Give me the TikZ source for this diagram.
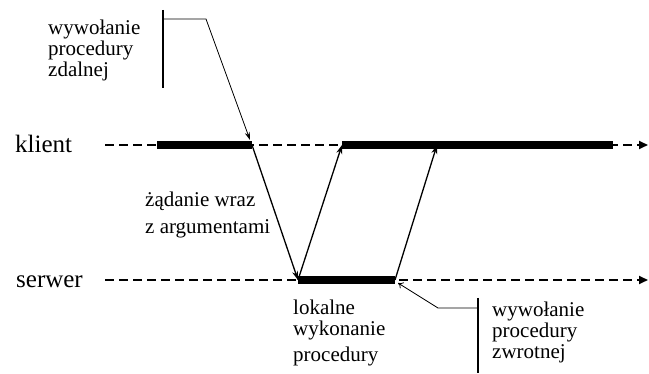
\documentclass[tikz,border=0pt]{standalone}
\usepackage{fontspec}
\setmainfont{Liberation Serif}
\usetikzlibrary{arrows.meta}
\begin{document}
\begin{tikzpicture}[x=1pt,y=-1pt,
  lbl/.style={anchor=base west,inner sep=0pt,font=\fontsize{21}{21}\selectfont},
  big/.style={anchor=base west,inner sep=0pt,font=\fontsize{25}{25}\selectfont},
  timeline/.style={line width=2pt,dash pattern=on 9pt off 5pt,-{Triangle[length=9pt,width=8pt]}},
  bar/.style={line width=8pt},
  msg/.style={line width=1.3pt,-{Stealth[length=9pt,width=6pt]}},
  callbar/.style={line width=2pt},
  callline/.style={line width=0.8pt},
]
\useasboundingbox (0,0) rectangle (649,374);
% timelines
\coordinate (kS) at (105,145);
\coordinate (kE) at (648,145);
\coordinate (sS) at (105,280);
\coordinate (sE) at (648,280);
\draw[timeline] (kS) -- (kE);
\draw[timeline] (sS) -- (sE);
% bars
\coordinate (k1a) at (157,145);
\coordinate (k1b) at (252,145);
\coordinate (k2a) at (342,145);
\coordinate (k2b) at (613,145);
\coordinate (s1a) at (298,280);
\coordinate (s1b) at (395,280);
\coordinate (k2m) at (437,145);
\draw[bar] (k1a) -- (k1b);
\draw[bar] (k2a) -- (k2b);
\draw[bar] (s1a) -- (s1b);
% messages
\draw[msg] (k1b) -- (s1a);
\draw[msg] (s1a) -- (k2a);
\draw[msg] (s1b) -- (k2m);
% labels
\node[big] (klient) at (15,153) {klient};
\node[big] (serwer) at (16,288) {serwer};
\node[lbl] (t1) at (48,35) {wywołanie};
\node[lbl] (t2) at (48,56) {procedury};
\node[lbl] (t3) at (48,77) {zdalnej};
\node[lbl] (z1) at (145,207) {żądanie wraz};
\node[lbl] (z2) at (145,234) {z argumentami};
\node[lbl] (l1) at (293,315) {lokalne};
\node[lbl] (l2) at (293,336) {wykonanie};
\node[lbl] (l3) at (293,362) {procedury};
\node[lbl] (w1) at (492,317) {wywołanie};
\node[lbl] (w2) at (492,338) {procedury};
\node[lbl] (w3) at (492,359) {zwrotnej};
% callout top
\coordinate (c1t) at (163,10);
\coordinate (c1b) at (163,88);
\coordinate (c1h) at (163,19);
\coordinate (c1k) at (206,19);
\coordinate (c1e) at (250,140);
\draw[callbar] (c1t) -- (c1b);
\draw[callline,-{Stealth[length=8pt,width=5pt]}] (c1h) -- (c1k) -- (c1e);
% callout bottom
\coordinate (c2t) at (478,298);
\coordinate (c2b) at (478,373);
\coordinate (c2h) at (478,308);
\coordinate (c2k) at (438,308);
\coordinate (c2e) at (398,283);
\draw[callbar] (c2t) -- (c2b);
\draw[callline,-{To[length=5pt,width=7pt]}] (c2h) -- (c2k) -- (c2e);
\end{tikzpicture}
\end{document}
